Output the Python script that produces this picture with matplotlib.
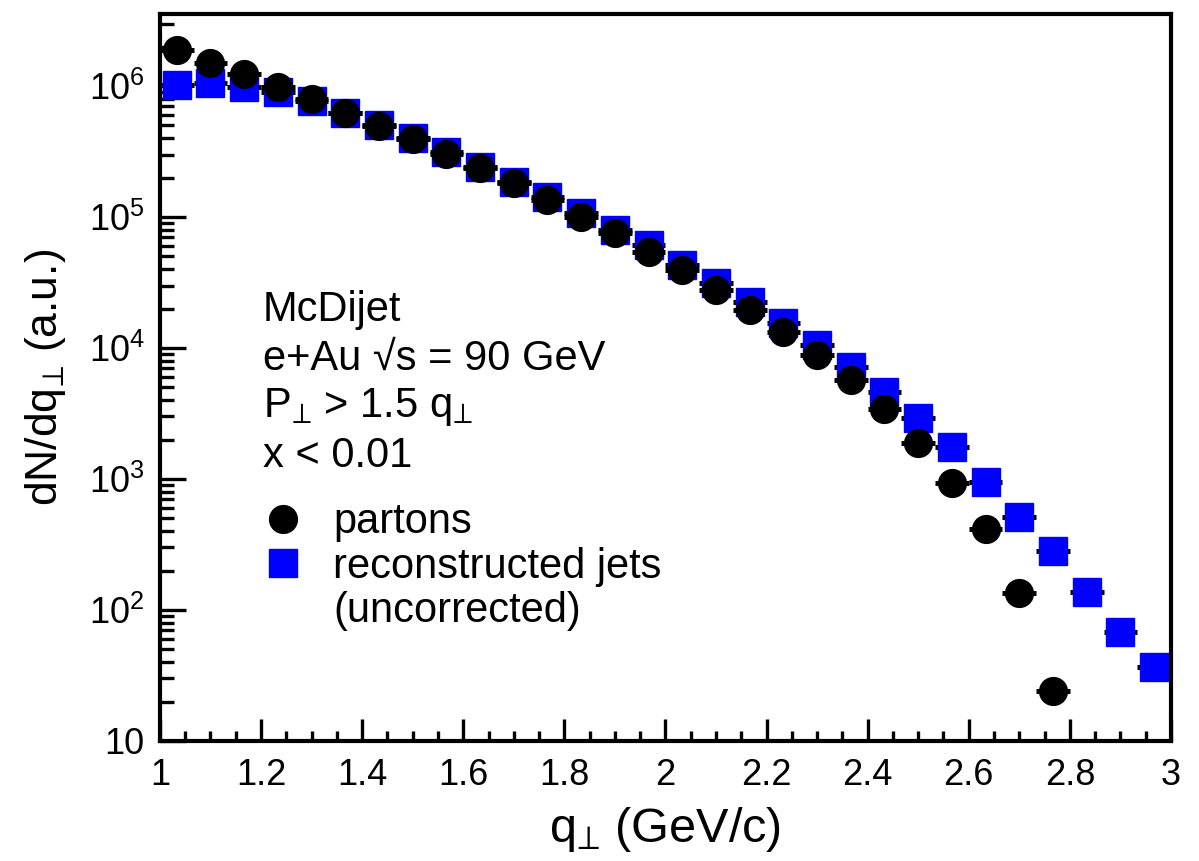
import numpy as np
import matplotlib
matplotlib.use("Agg")
import matplotlib.pyplot as plt
from matplotlib.ticker import FixedLocator, MultipleLocator, FuncFormatter, LogLocator, NullFormatter
from matplotlib.lines import Line2D

plt.rcParams['font.family'] = ['Liberation Sans', 'DejaVu Sans']
plt.rcParams['mathtext.fontset'] = 'custom'
plt.rcParams['mathtext.rm'] = 'Liberation Sans'
plt.rcParams['mathtext.it'] = 'Liberation Sans'
plt.rcParams['mathtext.bf'] = 'Liberation Sans:bold'

# bin centres of q_perp (30 bins between 1 and 3 GeV/c)
bin_width = 2.0 / 30
q_centers = 1.0 + bin_width * (np.arange(30) + 0.5)

# partons (filled circles), first 27 bins
partons = [1.88e6, 1.50e6, 1.24e6, 9.8e5, 7.96e5, 6.2e5, 4.95e5, 3.94e5, 3.03e5,
           2.37e5, 1.82e5, 1.35e5, 1.0e5, 7.55e4, 5.41e4, 3.94e4, 2.77e4, 1.95e4,
           1.32e4, 8.85e3, 5.7e3, 3.42e3, 1.88e3, 932, 415, 135, 24.1]

# reconstructed jets (uncorrected), all 30 bins
jets = [1.02e6, 1.05e6, 9.8e5, 9.0e5, 7.67e5, 6.2e5, 5.04e5, 4.0e5, 3.13e5,
        2.41e5, 1.85e5, 1.42e5, 1.07e5, 7.96e4, 6.11e4, 4.3e4, 3.14e4, 2.24e4,
        1.55e4, 1.05e4, 7.16e3, 4.61e3, 2.92e3, 1.75e3, 948, 513, 282, 137, 68, 36.7]

PERP = '\u22a5'
info_lines = ['McDijet', 'e+Au \u221as = 90 GeV',
              'P$_{%s}$ > 1.5 q$_{%s}$' % (PERP, PERP), 'x < 0.01']

fig = plt.figure(figsize=(11.99, 8.61), dpi=100)
ax = fig.add_axes([0.1334, 0.1394, 0.8432, 0.8444])

q_p = q_centers[:len(partons)]
ax.errorbar(q_centers, jets, xerr=bin_width / 2, fmt='s', ms=20, mfc='#0000ff',
            mec='#0000ff', ecolor='black', elinewidth=3.6, capsize=0, zorder=3)
ax.errorbar(q_p, partons, xerr=bin_width / 2, fmt='o', ms=20, mfc='black',
            mec='black', ecolor='black', elinewidth=3.6, capsize=0, zorder=4)

ax.set_yscale('log')
ax.set_xlim(1, 3)
ax.set_ylim(10, 3.55e6)

ax.xaxis.set_major_locator(MultipleLocator(0.2))
ax.xaxis.set_minor_locator(MultipleLocator(0.05))
ax.xaxis.set_major_formatter(FuncFormatter(lambda v, p: '%g' % round(v, 2)))

ax.yaxis.set_major_locator(FixedLocator([10, 1e2, 1e3, 1e4, 1e5, 1e6]))
ax.yaxis.set_minor_locator(LogLocator(base=10, subs=np.arange(2, 10)))
ax.yaxis.set_minor_formatter(NullFormatter())


def ylab(v, p):
    e = int(round(np.log10(v)))
    return '10' if e == 1 else r'$10^{%d}$' % e


ax.yaxis.set_major_formatter(FuncFormatter(ylab))

ax.tick_params(axis='both', which='both', direction='in', top=False, right=False,
               labelsize=26, width=2.4)
ax.tick_params(axis='y', which='major', length=19, pad=11)
ax.tick_params(axis='y', which='minor', length=10)
ax.tick_params(axis='x', which='major', length=16, pad=12)
ax.tick_params(axis='x', which='minor', length=7.5)
for s in ax.spines.values():
    s.set_linewidth(3)

ax.set_xlabel('q$_{%s}$ (GeV/c)' % PERP, fontsize=35, labelpad=9)
ax.set_ylabel('dN/dq$_{%s}$ (a.u.)' % PERP, fontsize=32, labelpad=15)

for i, line in enumerate(info_lines):
    ax.text(0.102, 0.593 - i * 0.067, line, transform=ax.transAxes,
            fontsize=30, va='center', ha='left')

handles = [Line2D([], [], ls='none', marker='o', ms=20, color='black'),
           Line2D([], [], ls='none', marker='s', ms=20, color='#0000ff'),
           Line2D([], [], ls='none', marker='none')]
ax.legend(handles, ['partons', 'reconstructed jets', '(uncorrected)'],
          loc='upper left', bbox_to_anchor=(0.0846, 0.351), frameon=False,
          fontsize=30, handlelength=1.0, handletextpad=0.7, labelspacing=0.1,
          borderaxespad=0)

fig.savefig('out.png', dpi=100)
